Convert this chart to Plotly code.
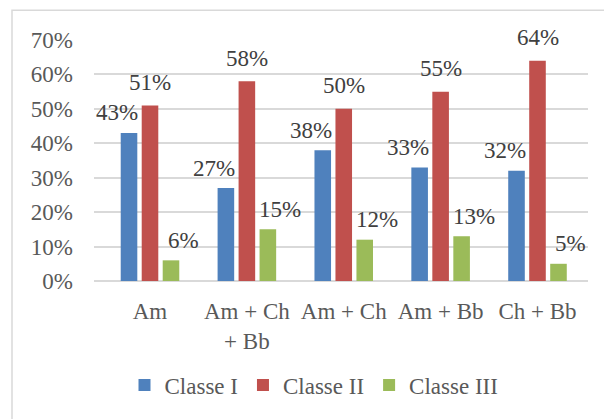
import plotly.graph_objects as go

categories = ["Am", "Am + Ch<br>+ Bb", "Am + Ch", "Am + Bb", "Ch + Bb"]
classe_1 = [0.43, 0.27, 0.38, 0.33, 0.32]
classe_2 = [0.51, 0.58, 0.50, 0.55, 0.64]
classe_3 = [0.06, 0.15, 0.12, 0.13, 0.05]
series_names = ["Classe I", "Classe II", "Classe III"]
y_ticks = [0, 0.1, 0.2, 0.3, 0.4, 0.5, 0.6, 0.7]
y_tick_labels = ["0%", "10%", "20%", "30%", "40%", "50%", "60%", "70%"]

colors = ["#4F81BD", "#C0504D", "#9BBB59"]
FONT = "Liberation Serif"

fig = go.Figure()
series = [classe_1, classe_2, classe_3]
for name, vals, col in zip(series_names, series, colors):
    fig.add_trace(go.Bar(x=categories, y=vals, name=name, marker_color=col,
                         marker_line_width=0))

# data labels (offset like the original)
xshifts = [-33, 0, 33]
yshifts = [20, 23, 20]
for vals, xs, ys in zip(series, xshifts, yshifts):
    for c, v in zip(categories, vals):
        fig.add_annotation(x=c, y=v, text=f"{round(v*100)}%", showarrow=False,
                           xshift=xs, yshift=ys, yanchor="middle",
                           font=dict(family=FONT, size=23, color="#404040"))

W, H = 604, 419
L, R, T, B = 94, 16, 40, 136
pw, ph = W - L - R, H - T - B
# chart border (cropped at right/bottom)
fig.add_shape(type="rect", xref="paper", yref="paper",
              x0=(12 - L) / pw, x1=(640 - L) / pw,
              y0=-(440 - T - ph) / ph, y1=(ph + T - 10) / ph,
              line=dict(color="#D9D9D9", width=1.5), fillcolor="rgba(0,0,0,0)",
              layer="below")

fig.update_layout(
    width=W, height=H,
    margin=dict(l=L, r=R, t=T, b=B),
    paper_bgcolor="white", plot_bgcolor="white",
    barmode="group", bargap=0.35, bargroupgap=0.21,
    font=dict(family=FONT, size=23, color="#595959"),
    showlegend=True,
    legend=dict(orientation="h", x=(314 - L) / pw, xanchor="center",
                y=-(388 - T - ph) / ph, yanchor="middle",
                font=dict(family=FONT, size=23, color="#595959"),
                itemwidth=30, traceorder="normal"),
    xaxis=dict(showgrid=False, showline=False, ticks="",
               tickfont=dict(family=FONT, size=23, color="#595959"),
               ticklabelstandoff=14),
    yaxis=dict(range=[0, 0.7], tickvals=y_ticks, ticktext=y_tick_labels,
               showgrid=True, gridcolor="#D9D9D9", gridwidth=1.5,
               zeroline=True, zerolinecolor="#D9D9D9", zerolinewidth=1.5,
               showline=False, ticks="",
               tickfont=dict(family=FONT, size=23, color="#595959"),
               ticklabelstandoff=20),
)

fig.write_html("out.html", config={"displayModeBar": False},
               post_script="document.body.style.margin='0';")
